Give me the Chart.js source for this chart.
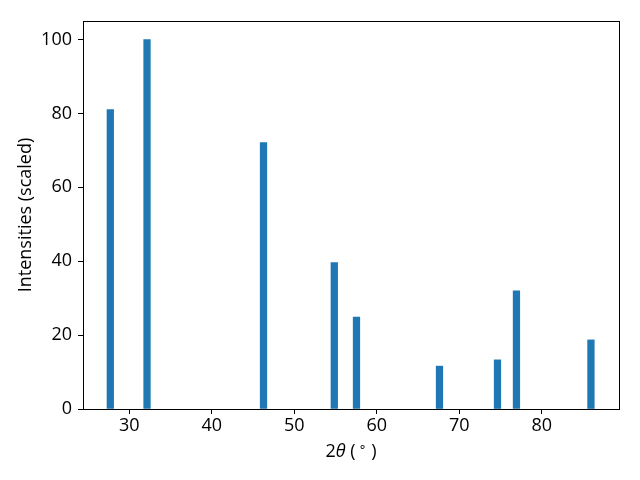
<!DOCTYPE html>
<html>
<head>
<meta charset="utf-8">
<script src="https://cdn.jsdelivr.net/npm/chart.js@4/dist/chart.umd.min.js"></script>
<style>
  html, body { margin: 0; padding: 0; background: #fff; }
  #wrap { width: 640px; height: 480px; }
</style>
</head>
<body>
<div id="wrap"><canvas id="c" width="640" height="480"></canvas></div>
<script>
// Peak positions (2θ, degrees) and scaled intensities
const peakPositions = [27.7, 32.15, 46.27, 54.85, 57.54, 67.6, 74.63, 76.93, 85.96];
const peakIntensities = [81.0, 100, 72.1, 39.6, 24.9, 11.6, 13.3, 32.0, 18.7];
const xTickValues = [30, 40, 50, 60, 70, 80];
const yTickValues = [0, 20, 40, 60, 80, 100];

const FONT = '"Open Sans", "DejaVu Sans", sans-serif';
const FSIZE = 18;

const frame = {
  id: 'frame',
  afterDraw(chart) {
    const a = chart.chartArea, ctx = chart.ctx;
    ctx.save();
    ctx.strokeStyle = '#000';
    ctx.lineWidth = 1;
    ctx.strokeRect(Math.round(a.left) + 0.5, Math.round(a.top) + 0.5,
                   Math.round(a.right - a.left), Math.round(a.bottom - a.top));
    // x-axis title: 2θ (°) with italic theta and superscript circle
    const parts = [
      { t: '2', f: `${FSIZE}px ${FONT}`, dy: 0, gap: 0 },
      { t: 'θ', f: `italic ${FSIZE}px ${FONT}`, dy: 0, gap: 0 },
      { t: ' (', f: `${FSIZE}px ${FONT}`, dy: 0, gap: 3 },
      { t: '∘', f: `${Math.round(FSIZE * 0.7)}px ${FONT}`, dy: -5, gap: 0 },
      { t: ' )', f: `${FSIZE}px ${FONT}`, dy: 0, gap: 0 }
    ];
    let total = 0;
    parts.forEach(p => { ctx.font = p.f; p.w = ctx.measureText(p.t).width + p.gap; total += p.w; });
    let x = (a.left + a.right) / 2 - total / 2;
    const y = 452;
    ctx.fillStyle = '#000';
    ctx.textBaseline = 'middle';
    ctx.textAlign = 'left';
    parts.forEach(p => { ctx.font = p.f; ctx.fillText(p.t, x, y + p.dy); x += p.w; });
    ctx.restore();
  }
};

new Chart(document.getElementById('c'), {
  type: 'bar',
  data: {
    datasets: [{
      data: peakPositions.map((p, i) => ({ x: p, y: peakIntensities[i] })),
      backgroundColor: '#1f77b4',
      borderWidth: 0,
      barThickness: 6.6
    }]
  },
  options: {
    responsive: false,
    animation: false,
    events: [],
    layout: { padding: { left: 0, top: 21, right: 21, bottom: 0 } },
    plugins: { legend: { display: false }, tooltip: { enabled: false } },
    scales: {
      x: {
        type: 'linear',
        min: 24.39,
        max: 89.36,
        offset: false,
        afterBuildTicks(s) { s.ticks = xTickValues.map(v => ({ value: v })); },
        afterFit(s) { s.height = 71; },
        grid: { display: true, offset: false, drawOnChartArea: false, drawTicks: true, tickLength: 5, color: '#000' },
        border: { display: true, color: '#000' },
        ticks: { color: '#000', font: { family: FONT, size: FSIZE }, padding: 1, maxRotation: 0 }
      },
      y: {
        type: 'linear',
        min: 0,
        max: 105,
        afterBuildTicks(s) { s.ticks = yTickValues.map(v => ({ value: v })); },
        afterFit(s) { s.width = 83; },
        grid: { display: true, drawOnChartArea: false, drawTicks: true, tickLength: 5, color: '#000' },
        border: { display: true, color: '#000' },
        ticks: { color: '#000', font: { family: FONT, size: FSIZE }, padding: 6 },
        title: { display: true, text: 'Intensities (scaled)', color: '#000', font: { family: FONT, size: FSIZE }, padding: { top: 15, bottom: 0 } }
      }
    }
  },
  plugins: [frame]
});
</script>
</body>
</html>
